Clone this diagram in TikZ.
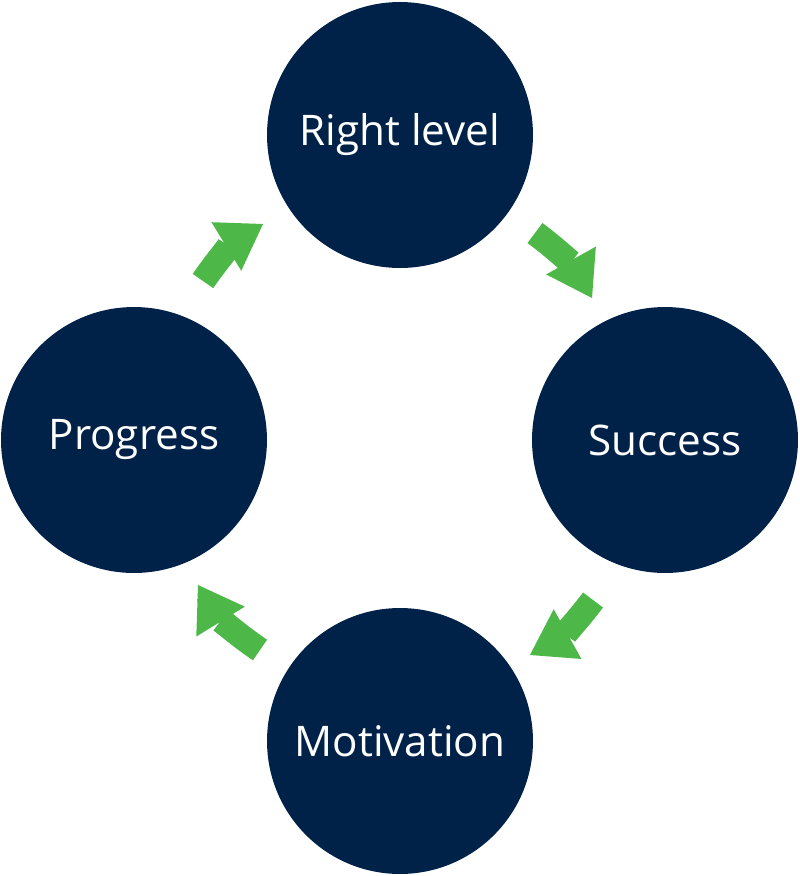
\documentclass[tikz,border=0pt]{standalone}
\usepackage{fontspec}
\setmainfont{Open Sans}
\usetikzlibrary{arrows.meta}
\definecolor{navy}{RGB}{1,34,72}
\definecolor{leaf}{RGB}{77,184,72}
\tikzset{
  stage/.style={circle,fill=navy,text=white,minimum size=5.32cm,inner sep=0pt,font=\fontsize{24}{28}\selectfont},
  flow/.style={leaf,line width=0.5cm,-{Triangle[length=0.86cm,width=1.14cm,line width=0pt]}}
}
\begin{document}
\begin{tikzpicture}[x=0.02cm,y=-0.02cm]
\useasboundingbox (0,0) rectangle (800,876);
\node[stage] (level) at (400,135) {Right level};
\node[stage] (success) at (665,440) {Success};
\node[stage] (motiv) at (400,741) {Motivation};
\node[stage] (progress) at (134,440) {Progress};
% arrow ends between the circles
\coordinate (ls) at (535,233); \coordinate (le) at (592,298);
\coordinate (ss) at (593,600); \coordinate (se) at (530,655);
\coordinate (ms) at (260,650); \coordinate (me) at (198,585);
\coordinate (ps) at (203,281); \coordinate (pe) at (263,224);
\draw[flow] (ls) to[bend left=12] (le);
\draw[flow] (ss) to[bend left=12] (se);
\draw[flow] (ms) to[bend left=12] (me);
\draw[flow] (ps) to[bend left=12] (pe);
\end{tikzpicture}
\end{document}
